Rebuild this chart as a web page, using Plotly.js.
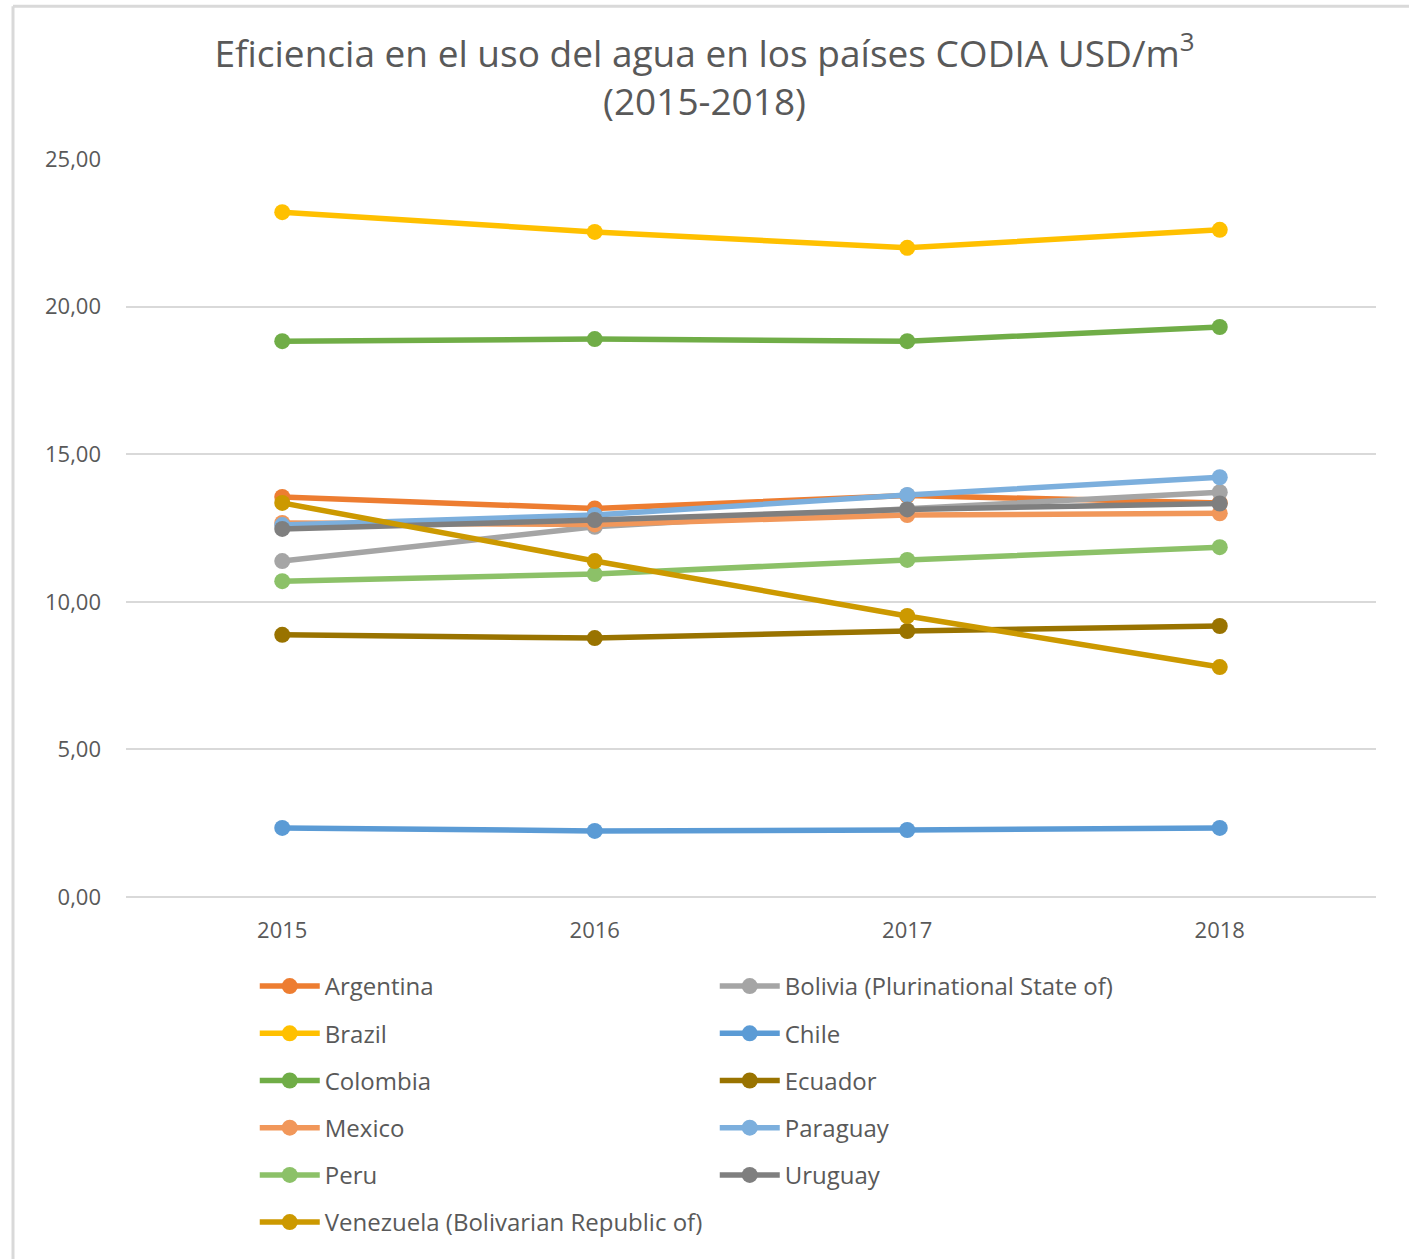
<!DOCTYPE html>
<html>
<head>
<meta charset="utf-8">
<script src="https://cdn.plot.ly/plotly-3.0.1.min.js"></script>
<style>html,body{margin:0;padding:0;background:#fff;}</style>
</head>
<body>
<div id="chart" style="width:1409px;height:1259px;"></div>
<script>
const years = ['2015', '2016', '2017', '2018'];
const argentina = [13.55, 13.16, 13.60, 13.35];
const bolivia = [11.38, 12.54, 13.15, 13.71];
const brazil = [23.20, 22.53, 21.99, 22.60];
const chile = [2.34, 2.24, 2.27, 2.34];
const colombia = [18.83, 18.90, 18.83, 19.31];
const ecuador = [8.88, 8.77, 9.01, 9.18];
const mexico = [12.67, 12.62, 12.94, 13.00];
const paraguay = [12.60, 12.94, 13.62, 14.22];
const peru = [10.70, 10.94, 11.42, 11.85];
const uruguay = [12.47, 12.77, 13.13, 13.33];
const venezuela = [13.35, 11.38, 9.52, 7.79];

const seriesNames = ['Argentina', 'Bolivia (Plurinational State of)', 'Brazil', 'Chile', 'Colombia', 'Ecuador', 'Mexico', 'Paraguay', 'Peru', 'Uruguay', 'Venezuela (Bolivarian Republic of)'];
const seriesValues = [argentina, bolivia, brazil, chile, colombia, ecuador, mexico, paraguay, peru, uruguay, venezuela];
const seriesColors = ['#ED7D31', '#A5A5A5', '#FFC000', '#5B9BD5', '#70AD47', '#997300', '#F1975A', '#7CAFDD', '#8CC168', '#7F7F7F', '#CC9900'];

const traces = seriesNames.map((n, i) => ({
  type: 'scatter',
  mode: 'lines+markers',
  name: n,
  x: years,
  y: seriesValues[i],
  legend: (i % 2 === 0) ? 'legend' : 'legend2',
  legendgroup: 'g' + i,
  line: {color: seriesColors[i], width: 5.5},
  marker: {color: seriesColors[i], size: 16}
}));

const legendBase = {
  orientation: 'v',
  xanchor: 'left',
  yanchor: 'top',
  y: -0.0908,
  itemwidth: 60,
  tracegroupgap: 13,
  traceorder: 'grouped',
  font: {size: 24, color: '#595959'},
  bgcolor: 'rgba(0,0,0,0)'
};

const layout = {
  width: 1409,
  height: 1259,
  margin: {l: 126, r: 33, t: 159, b: 362, autoexpand: false},
  paper_bgcolor: '#ffffff',
  plot_bgcolor: '#ffffff',
  separators: ',.',
  font: {family: 'Open Sans, sans-serif', color: '#595959', size: 20},
  title: {
    text: 'Eficiencia en el uso del agua en los países CODIA USD/m<sup>3</sup><br>(2015-2018)',
    font: {family: 'Open Sans, sans-serif', size: 37, color: '#595959'},
    x: 0.5, xanchor: 'center',
    y: 0.947, yanchor: 'top'
  },
  xaxis: {
    type: 'category',
    range: [-0.5, 3.5],
    showgrid: false,
    showline: false,
    zeroline: false,
    ticks: '',
    tickfont: {size: 22, color: '#595959'},
    ticklabelstandoff: 18
  },
  yaxis: {
    range: [0, 25],
    dtick: 5,
    tickformat: '.2f',
    showgrid: true,
    gridcolor: '#D9D9D9',
    gridwidth: 2,
    zeroline: true,
    zerolinecolor: '#D9D9D9',
    zerolinewidth: 2,
    showline: false,
    ticks: '',
    ticklabelstandoff: 24,
    tickfont: {size: 22, color: '#595959'}
  },
  showlegend: true,
  legend: Object.assign({}, legendBase, {x: 0.103}),
  legend2: Object.assign({}, legendBase, {x: 0.471}),
  shapes: [
    {type: 'line', xref: 'paper', yref: 'paper', x0: -0.0904, x1: -0.0904, y0: 1.207, y1: -0.5, line: {color: '#D9D9D9', width: 3}},
    {type: 'line', xref: 'paper', yref: 'paper', x0: -0.0904, x1: 1.03, y0: 1.207, y1: 1.207, line: {color: '#D9D9D9', width: 3}}
  ]
};

Plotly.newPlot('chart', traces, layout, {displayModeBar: false});
</script>
</body>
</html>
